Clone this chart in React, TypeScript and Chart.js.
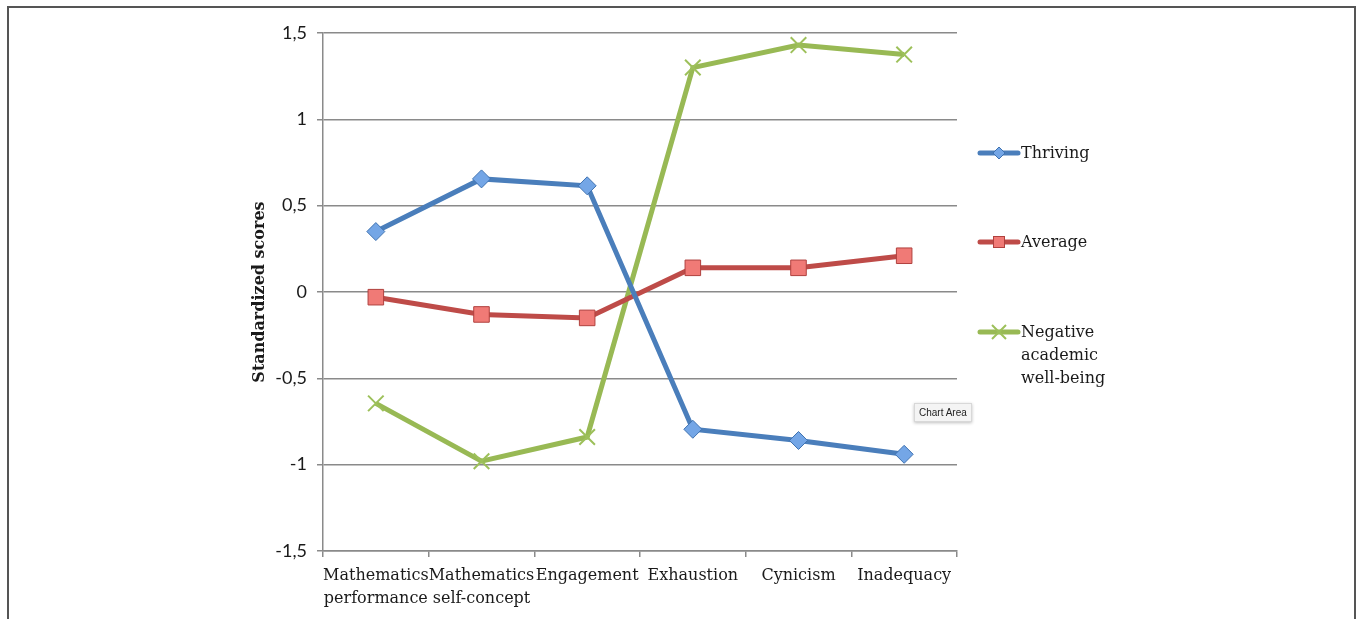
import React, { useEffect, useRef } from "react";
import { Chart, registerables } from "chart.js";

Chart.register(...registerables);

const categories: string[][] = [
  ["Mathematics", "performance"],
  ["Mathematics", "self-concept"],
  ["Engagement"],
  ["Exhaustion"],
  ["Cynicism"],
  ["Inadequacy"],
];
const thriving = [0.35, 0.655, 0.615, -0.795, -0.86, -0.94];
const average = [-0.03, -0.13, -0.15, 0.14, 0.14, 0.21];
const negative = [-0.645, -0.98, -0.84, 1.3, 1.43, 1.375];
const seriesNames = ["Thriving", "Average", "Negative academic well-being"];
const legendLines: string[][] = [["Thriving"], ["Average"], ["Negative", "academic", "well-being"]];
const yTickLabels = ["-1,5", "-1", "-0,5", "0", "0,5", "1", "1,5"];

const SERIF = "'DejaVu Serif', serif";

const legendPlugin = {
  id: "customLegend",
  afterDraw(chart: any) {
    const ctx = chart.ctx as CanvasRenderingContext2D;
    const ys = [153, 242, 332];
    ctx.save();
    chart.data.datasets.forEach((ds: any, i: number) => {
      const y = ys[i];
      ctx.strokeStyle = ds.borderColor;
      ctx.lineWidth = 5;
      ctx.lineCap = "round";
      ctx.beginPath();
      ctx.moveTo(980, y);
      ctx.lineTo(1018, y);
      ctx.stroke();
      const cx = 999;
      ctx.lineCap = "butt";
      if (i === 0) {
        ctx.fillStyle = ds.pointBackgroundColor;
        ctx.strokeStyle = ds.pointBorderColor;
        ctx.lineWidth = 1;
        ctx.beginPath();
        ctx.moveTo(cx, y - 6);
        ctx.lineTo(cx + 6, y);
        ctx.lineTo(cx, y + 6);
        ctx.lineTo(cx - 6, y);
        ctx.closePath();
        ctx.fill();
        ctx.stroke();
      } else if (i === 1) {
        ctx.fillStyle = ds.pointBackgroundColor;
        ctx.strokeStyle = ds.pointBorderColor;
        ctx.lineWidth = 1;
        ctx.fillRect(cx - 5.5, y - 5.5, 11, 11);
        ctx.strokeRect(cx - 5.5, y - 5.5, 11, 11);
      } else {
        ctx.strokeStyle = ds.pointBorderColor;
        ctx.lineWidth = 2;
        ctx.beginPath();
        ctx.moveTo(cx - 7, y - 7);
        ctx.lineTo(cx + 7, y + 7);
        ctx.moveTo(cx + 7, y - 7);
        ctx.lineTo(cx - 7, y + 7);
        ctx.stroke();
      }
      ctx.fillStyle = "#1a1a1a";
      ctx.font = "16px " + SERIF;
      ctx.textBaseline = "middle";
      ctx.textAlign = "left";
      legendLines[i].forEach((t, k) => {
        ctx.fillText(t, 1021, y + 1 + k * 23);
      });
    });
    ctx.restore();
  },
};

export default function App() {
  const ref = useRef<HTMLCanvasElement | null>(null);
  useEffect(() => {
    if (!ref.current) return;
    const chart = new Chart(ref.current, {
      type: "line",
      data: {
        labels: categories as any,
        datasets: [
          {
            label: seriesNames[0],
            data: thriving,
            borderColor: "#4a7ebb",
            borderWidth: 5,
            pointStyle: "rectRot",
            pointRadius: 9,
            pointBackgroundColor: "#74a6e6",
            pointBorderColor: "#3f72b0",
            pointBorderWidth: 1,
            tension: 0,
          },
          {
            label: seriesNames[1],
            data: average,
            borderColor: "#be4b48",
            borderWidth: 5,
            pointStyle: "rect",
            pointRadius: 11,
            pointBackgroundColor: "#f07a76",
            pointBorderColor: "#b0413e",
            pointBorderWidth: 1,
            tension: 0,
          },
          {
            label: seriesNames[2],
            data: negative,
            borderColor: "#98b954",
            borderWidth: 5,
            pointStyle: "crossRot",
            pointRadius: 11,
            pointBackgroundColor: "#9dc05a",
            pointBorderColor: "#9dc05a",
            pointBorderWidth: 2,
            tension: 0,
          },
        ],
      },
      options: {
        animation: false,
        responsive: false,
        maintainAspectRatio: false,
        layout: { padding: { left: 240, right: 400, top: 33, bottom: 0 } },
        plugins: {
          legend: { display: false },
          tooltip: { enabled: false },
          title: { display: false },
        },
        scales: {
          x: {
            type: "category",
            offset: true,
            afterFit: (s: any) => {
              s.height = 68;
            },
            grid: {
              offset: true,
              drawOnChartArea: false,
              drawTicks: true,
              tickLength: 6,
              color: "#8a8a8a",
              lineWidth: 1.5,
            },
            border: { color: "#8a8a8a", width: 1.5 },
            ticks: {
              color: "#1a1a1a",
              font: { family: SERIF, size: 16, lineHeight: 1.4 },
              padding: 8,
              maxRotation: 0,
              autoSkip: false,
            },
          },
          y: {
            min: -1.5,
            max: 1.5,
            afterFit: (s: any) => {
              s.width = 83;
            },
            grid: {
              color: "#8a8a8a",
              lineWidth: 1.5,
              tickLength: 6,
            },
            border: { color: "#8a8a8a", width: 1.5 },
            ticks: {
              stepSize: 0.5,
              color: "#1a1a1a",
              font: { family: "Lato, sans-serif", size: 18 },
              padding: 10,
              callback: (_v: any, i: number) => yTickLabels[i],
            },
            title: {
              display: true,
              text: "Standardized scores",
              color: "#1a1a1a",
              font: { family: SERIF, size: 16, weight: "bold" },
              padding: { top: 10, bottom: 0 },
            },
          },
        },
      },
      plugins: [legendPlugin],
    });
    return () => chart.destroy();
  }, []);

  return (
    <>
      <canvas
        ref={ref}
        width={1357}
        height={619}
        style={{ position: "fixed", left: 0, top: 0, width: 1357, height: 619, background: "#fff" }}
      />
      <div
        style={{
          position: "fixed",
          left: 7,
          top: 6,
          width: 1345,
          height: 700,
          border: "2px solid #555",
          pointerEvents: "none",
        }}
      />
      <div
        style={{
          position: "fixed",
          left: 914,
          top: 403,
          padding: "2px 4px",
          background: "#f4f4f4",
          border: "1px solid #d8d8d8",
          boxShadow: "0 1px 3px rgba(0,0,0,0.25)",
          font: "10px 'Liberation Sans', Arial, sans-serif",
          color: "#222",
          lineHeight: "13px",
        }}
      >
        Chart Area
      </div>
    </>
  );
}
